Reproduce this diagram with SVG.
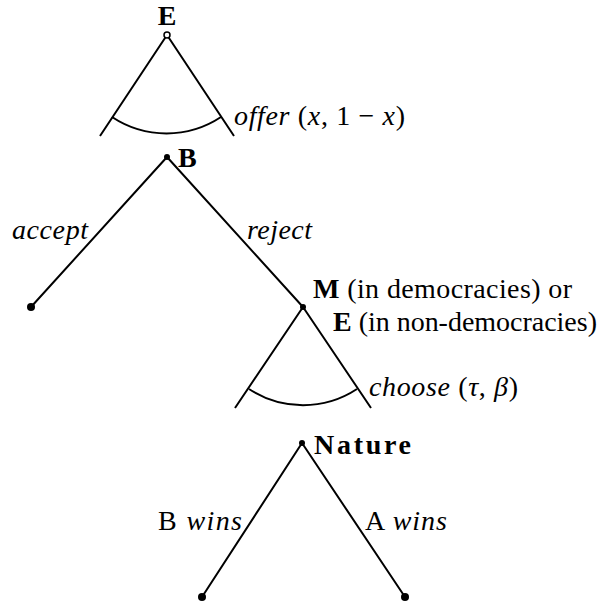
<svg xmlns="http://www.w3.org/2000/svg" width="599" height="604" viewBox="0 0 599 604">
<style>
.e{stroke:#000;stroke-width:2;fill:none}
text{font-family:"Liberation Serif","DejaVu Serif",serif;font-size:28px;fill:#000}
.b{font-weight:bold}
.i{font-style:italic}
.dot{fill:#000}
</style>
<g id="connectors">
<path class="e" d="M167,35 L100,136 M167,35 L234,136"/>
<path class="e" d="M112,117 A98.7,98.7 0 0 0 221,117"/>
<path class="e" d="M167,157 L31,307 M167,157 L303,307"/>
<path class="e" d="M303,307 L235,408 M303,307 L371,408"/>
<path class="e" d="M249,389 A98.2,98.2 0 0 0 357,389"/>
<path class="e" d="M302,443 L202,597 M302,443 L405,597"/>
</g>
<g id="nodeE">
<circle cx="167" cy="35" r="3" fill="#fff" stroke="#000" stroke-width="1.5"/>
<text x="167" y="25" class="b" text-anchor="middle">E</text>
<text x="234" y="125" textLength="171"><tspan class="i">offer</tspan> (<tspan class="i">x</tspan>, 1 − <tspan class="i">x</tspan>)</text>
</g>
<g id="nodeB">
<circle class="dot" cx="167" cy="157" r="3"/>
<text x="178" y="167" class="b">B</text>
<text x="12" y="239" class="i" textLength="76">accept</text>
<text x="247" y="239" class="i" textLength="65">reject</text>
</g>
<g id="leafAccept"><circle class="dot" cx="31" cy="307" r="4"/></g>
<g id="nodeM">
<circle class="dot" cx="303" cy="307" r="3"/>
<text x="313" y="298" textLength="259"><tspan class="b">M</tspan> (in democracies) or</text>
<text x="333" y="331" textLength="264"><tspan class="b">E</tspan> (in non-democracies)</text>
<text x="369" y="396" textLength="149"><tspan class="i">choose</tspan> (<tspan class="i">τ</tspan>, <tspan class="i">β</tspan>)</text>
</g>
<g id="nodeNature">
<circle class="dot" cx="302" cy="443" r="3"/>
<text x="314" y="454" class="b" textLength="97">Nature</text>
<text x="158" y="530" textLength="84">B <tspan class="i">wins</tspan></text>
<text x="365" y="530" textLength="82">A <tspan class="i">wins</tspan></text>
</g>
<g id="leafB"><circle class="dot" cx="202" cy="597" r="4"/></g>
<g id="leafA"><circle class="dot" cx="405" cy="597" r="4"/></g>
</svg>
